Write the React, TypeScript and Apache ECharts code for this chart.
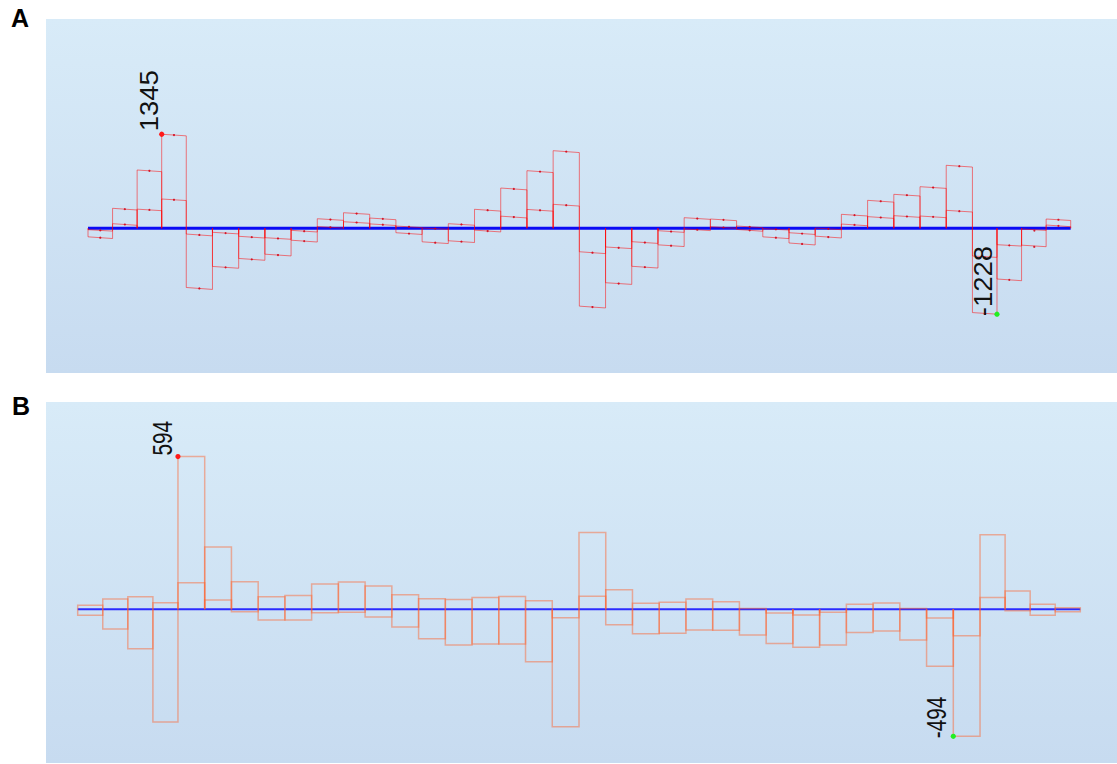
import React, { useEffect, useRef } from "react";
import * as echarts from "echarts";

// Member stations along the beam (m): 1.5 m cantilevers at each end, two 6 m spans
const stations = [
  0, 0.375, 0.75, 1.125, 1.5,
  1.9, 2.3, 2.7, 3.1, 3.5, 3.9, 4.3, 4.7, 5.1, 5.5, 5.9, 6.3, 6.7, 7.1, 7.5,
  7.9, 8.3, 8.7, 9.1, 9.5, 9.9, 10.3, 10.7, 11.1, 11.5, 11.9, 12.3, 12.7, 13.1, 13.5,
  13.875, 14.25, 14.625, 15,
];

// Diagram A: envelope values at the start / end of every element
const aUpperStart = [
  -20, 286, 834, 1345, -82, -57, -114, -134, -29, 137, 223, 147, 33, 4, 66, 272, 576, 824, 1110,
  -335, -267, -191, -34, 152, 133, 33, -5, -63, 4, 200, 400, 486, 595, 901, -396, -234, -10, 133,
];
const aUpperEnd = [
  -40, 262, 810, 1322, -108, -80, -139, -157, -53, 114, 200, 123, 10, -14, 44, 246, 550, 797, 1083,
  -362, -290, -216, -58, 128, 109, 9, -25, -88, -20, 176, 374, 462, 571, 876, -416, -254, -30, 112,
];
const aLowerStart = [
  -122, 66, 274, 419, -846, -545, -431, -370, -170, 25, 94, 63, -63, -193, -178, -26, 174, 270, 343,
  -1113, -778, -543, -236, -8, 23, -16, -122, -210, -112, 61, 167, 181, 176, 257, -1205, -725, -241, 47,
];
const aLowerEnd = [
  -146, 43, 252, 397, -874, -571, -457, -395, -196, 4, 72, 40, -88, -218, -203, -52, 148, 245, 318,
  -1139, -802, -568, -261, -33, 0, -42, -147, -238, -138, 37, 142, 157, 152, 233, -1228, -749, -263, 23,
];

// Diagram B: envelope values per element (constant along each element)
const bUpper = [
  16, 40, 49, 25, 594, 242, 107, 49, 53, 98, 106, 90, 56, 41, 38, 46, 50, 33, -33,
  298, 76, 23, 27, 40, 29, 3, -15, -22, -12, 19, 24, 3, -34, -103, 290, 71, 19, 6,
];
const bLower = [
  -23, -77, -154, -439, 103, 36, -10, -42, -42, -14, -12, -30, -69, -115, -139, -135, -135, -204, -457,
  51, -60, -95, -93, -81, -82, -100, -133, -148, -139, -90, -85, -120, -222, -494, 46, -6, -23, -10,
];

const aData = aUpperStart.map((v, i) => [
  stations[i], stations[i + 1], v, aUpperEnd[i], aLowerStart[i], aLowerEnd[i],
]);
const bData = bUpper.map((v, i) => [
  stations[i], stations[i + 1], v, v, bLower[i], bLower[i],
]);

const argMax = (arr: number[]) => arr.reduce((b, v, i) => (v > arr[b] ? i : b), 0);
const argMin = (arr: number[]) => arr.reduce((b, v, i) => (v < arr[b] ? i : b), 0);

const aMaxI = argMax(aUpperStart);
const aMinI = argMin(aLowerEnd);
const bMaxI = argMax(bUpper);
const bMinI = argMin(bLower);

const aPeaks = [
  [stations[aMaxI], aUpperStart[aMaxI]],
  [stations[aMinI + 1], aLowerEnd[aMinI]],
];
const bPeaks = [
  [stations[bMaxI], bUpper[bMaxI]],
  [stations[bMinI], bLower[bMinI]],
];

function envelopeSeries(gridIndex: number, data: number[][], stroke: string, width: number, tick: string | null) {
  return {
    type: "custom",
    xAxisIndex: gridIndex,
    yAxisIndex: gridIndex,
    z: 3,
    silent: true,
    data,
    encode: { x: [0, 1], y: [2, 3, 4, 5] },
    renderItem: (params: any, api: any) => {
      const x0 = api.value(0);
      const x1 = api.value(1);
      const p = (x: number, v: number) => api.coord([x, v]);
      const children: any[] = [];
      const pairs = [
        [api.value(2), api.value(3)],
        [api.value(4), api.value(5)],
      ];
      pairs.forEach(([s, e]) => {
        children.push({
          type: "polyline",
          shape: { points: [p(x0, 0), p(x0, s), p(x1, e), p(x1, 0)] },
          style: { stroke, lineWidth: width, fill: "none" },
        });
        if (tick) {
          const m = p((x0 + x1) / 2, (s + e) / 2);
          children.push({
            type: "circle",
            shape: { cx: m[0], cy: m[1], r: 1.1 },
            style: { fill: tick },
          });
        }
      });
      return { type: "group", children };
    },
  };
}

// Extreme-value markers: a dot on the mark and its value written vertically
function peakSeries(gridIndex: number, data: number[][], fontSize: number, stretch: number, offsets: number[][]) {
  return {
    type: "custom",
    xAxisIndex: gridIndex,
    yAxisIndex: gridIndex,
    z: 5,
    silent: true,
    data,
    renderItem: (params: any, api: any) => {
      const v = api.value(1);
      const pt = api.coord([api.value(0), v]);
      const off = offsets[params.dataIndex];
      const isMax = params.dataIndex === 0;
      return {
        type: "group",
        children: [
          {
            type: "circle",
            shape: { cx: pt[0], cy: pt[1], r: 2.6 },
            style: { fill: isMax ? "#ff1a1a" : "#22ee22" },
          },
          {
            type: "text",
            x: pt[0] + off[0],
            y: pt[1] + off[1],
            rotation: Math.PI / 2,
            scaleX: stretch,
            style: {
              text: String(v),
              fill: "#111111",
              fontSize,
              fontFamily: "Liberation Sans, Arial, sans-serif",
              align: "left",
              verticalAlign: "bottom",
            },
          },
        ],
      };
    },
  };
}

const panelFill = {
  type: "linear",
  x: 0,
  y: 0,
  x2: 0,
  y2: 1,
  colorStops: [
    { offset: 0, color: "#d8ebf8" },
    { offset: 1, color: "#c7dbf0" },
  ],
};

export default function App() {
  const ref = useRef<HTMLDivElement>(null);

  useEffect(() => {
    if (!ref.current) return;
    const chart = echarts.init(ref.current, null, { renderer: "svg" });
    chart.setOption({
      animation: false,
      backgroundColor: "#ffffff",
      graphic: [
        { type: "rect", z: -10, shape: { x: 46, y: 19, width: 1071, height: 354 }, style: { fill: panelFill } },
        { type: "rect", z: -10, shape: { x: 46, y: 402, width: 1071, height: 361 }, style: { fill: panelFill } },
        {
          type: "text", left: 11, top: 5,
          style: { text: "A", fontSize: 25, fontWeight: "bold", fontFamily: "Liberation Sans, Arial, sans-serif", fill: "#000" },
        },
        {
          type: "text", left: 12, top: 393,
          style: { text: "B", fontSize: 25, fontWeight: "bold", fontFamily: "Liberation Sans, Arial, sans-serif", fill: "#000" },
        },
      ],
      grid: [
        { left: 88, top: 19, width: 982.7, height: 354 },
        { left: 77.7, top: 402, width: 1002.6, height: 361 },
      ],
      xAxis: [
        { type: "value", gridIndex: 0, min: 0, max: 15, show: false },
        { type: "value", gridIndex: 1, min: 0, max: 15, show: false },
      ],
      yAxis: [
        { type: "value", gridIndex: 0, min: -2069, max: 2993, show: false, splitLine: { show: false } },
        { type: "value", gridIndex: 1, min: -598, max: 806, show: false, splitLine: { show: false } },
      ],
      series: [
        {
          type: "line", xAxisIndex: 0, yAxisIndex: 0, z: 2, silent: true, symbol: "none",
          data: [[stations[0], 0], [stations[stations.length - 1], 0]],
          lineStyle: { color: "#0a0af5", width: 3 },
        },
        {
          type: "line", xAxisIndex: 1, yAxisIndex: 1, z: 2, silent: true, symbol: "none",
          data: [[stations[0], 0], [stations[stations.length - 1], 0]],
          lineStyle: { color: "#2b2bff", width: 2 },
        },
        envelopeSeries(0, aData, "rgba(255,0,0,0.5)", 1, "rgba(210,0,20,0.85)"),
        envelopeSeries(1, bData, "rgba(255,95,40,0.45)", 1.5, null),
        peakSeries(0, aPeaks, 25, 1.1, [[0, -3], [-1, 2]]),
        peakSeries(1, bPeaks, 28, 0.74, [[-2, -1], [-3, 2]]),
      ],
    });
    return () => chart.dispose();
  }, []);

  return (
    <div
      ref={ref}
      style={{ position: "absolute", left: 0, top: 0, width: 1117, height: 764 }}
    />
  );
}
